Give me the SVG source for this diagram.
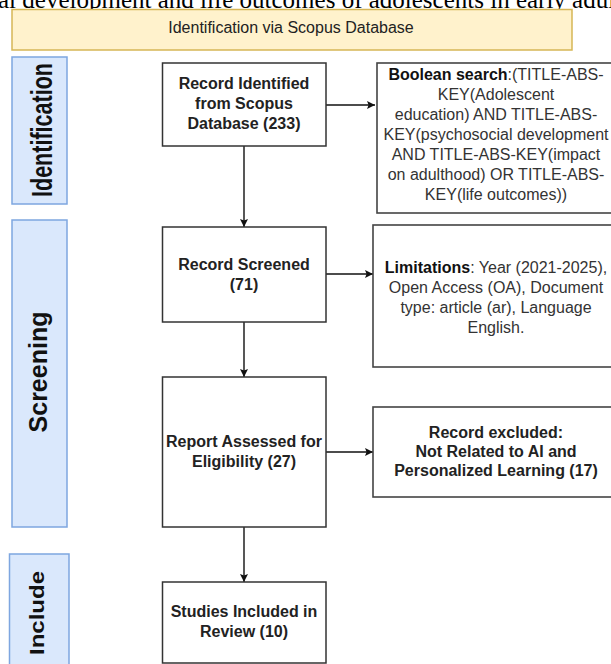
<svg xmlns="http://www.w3.org/2000/svg" width="611" height="664" viewBox="0 0 611 664">
<defs>
<marker id="ah" viewBox="0 0 10 10" refX="10" refY="5" markerWidth="8" markerHeight="8" markerUnits="userSpaceOnUse" orient="auto">
<path d="M0,0 L10,5 L0,10 L2,5 Z" fill="#111"/>
</marker>
<style>
.box{fill:#fff;stroke:#333;stroke-width:1.5}
.rbox{fill:#fff;stroke:#444;stroke-width:1.6}
.side{fill:#dae8fc;stroke:#7ea6e0;stroke-width:1.5}
.banner{fill:#fff2cc;stroke:#d6b656;stroke-width:1.5}
.t{font-family:"Liberation Sans",Arial,sans-serif;font-size:16px;fill:#222;text-anchor:middle}
.b{font-weight:bold}
.r{fill:#333}
.sl{font-family:"Liberation Sans",Arial,sans-serif;font-weight:bold;fill:#111;text-anchor:middle}
.c{stroke:#111;stroke-width:1.4;fill:none;marker-end:url(#ah)}
</style>
</defs>
<rect width="611" height="664" fill="#fff"/>
<text x="-2" y="8" font-family="'Liberation Serif','Times New Roman',serif" font-size="25" fill="#000">al development and life outcomes of adolescents in early adult</text>

<g id="banner">
<rect class="banner" x="12" y="9.5" width="560" height="40.5"/>
<text class="t" x="291" y="33">Identification via Scopus Database</text>
</g>

<g id="side-identification">
<rect class="side" x="12" y="57" width="55" height="147"/>
<text class="sl" font-size="30" textLength="134" lengthAdjust="spacingAndGlyphs" transform="translate(52,130) rotate(-90)">Identification</text>
</g>
<g id="side-screening">
<rect class="side" x="12" y="220" width="55" height="307"/>
<text class="sl" font-size="25" transform="translate(47,372) rotate(-90)">Screening</text>
</g>
<g id="side-include">
<rect class="side" x="9.5" y="554" width="59.5" height="120"/>
<text class="sl" font-size="20" textLength="84" lengthAdjust="spacingAndGlyphs" transform="translate(43.5,613) rotate(-90)">Include</text>
</g>

<g id="connectors">
<line class="c" x1="244" y1="146" x2="244" y2="227"/>
<line class="c" x1="244" y1="322" x2="244" y2="377"/>
<line class="c" x1="244" y1="527" x2="244" y2="582"/>
<line class="c" x1="326" y1="105" x2="375" y2="105"/>
<line class="c" x1="326" y1="274" x2="373" y2="274"/>
<line class="c" x1="326" y1="452" x2="373" y2="452"/>
</g>

<g id="n1">
<rect class="box" x="162.5" y="63" width="163.5" height="83"/>
<text class="t b" x="244" y="89">Record Identified</text>
<text class="t b" x="244" y="109">from Scopus</text>
<text class="t b" x="244" y="129">Database (233)</text>
</g>
<g id="n2">
<rect class="box" x="162.5" y="227" width="163.5" height="95"/>
<text class="t b" x="244" y="270">Record Screened</text>
<text class="t b" x="244" y="290">(71)</text>
</g>
<g id="n3">
<rect class="box" x="162.5" y="377" width="163.5" height="150"/>
<text class="t b" x="244" y="447">Report Assessed for</text>
<text class="t b" x="244" y="467">Eligibility (27)</text>
</g>
<g id="n4">
<rect class="box" x="162.5" y="582" width="163.5" height="81"/>
<text class="t b" x="244" y="617">Studies Included in</text>
<text class="t b" x="244" y="637">Review (10)</text>
</g>

<g id="boolean">
<rect class="rbox" x="377" y="63" width="240" height="150"/>
<text class="t r" x="496" y="80"><tspan class="b" fill="#111">Boolean search</tspan>:(TITLE-ABS-</text>
<text class="t r" x="496" y="100">KEY(Adolescent</text>
<text class="t r" x="496" y="120">education) AND TITLE-ABS-</text>
<text class="t r" x="496" y="140">KEY(psychosocial development</text>
<text class="t r" x="496" y="160">AND TITLE-ABS-KEY(impact</text>
<text class="t r" x="496" y="180">on adulthood) OR TITLE-ABS-</text>
<text class="t r" x="496" y="200">KEY(life outcomes))</text>
</g>
<g id="limitations">
<rect class="rbox" x="373" y="225" width="245" height="142"/>
<text class="t r" x="496" y="273"><tspan class="b" fill="#111">Limitations</tspan>: Year (2021-2025),</text>
<text class="t r" x="496" y="293">Open Access (OA), Document</text>
<text class="t r" x="496" y="313">type: article (ar), Language</text>
<text class="t r" x="496" y="333">English.</text>
</g>
<g id="excluded">
<rect class="rbox" x="373" y="407" width="245" height="90"/>
<text class="t b" x="496" y="438">Record excluded:</text>
<text class="t b" x="496" y="457">Not Related to AI and</text>
<text class="t b" x="496" y="476">Personalized Learning (17)</text>
</g>
</svg>
